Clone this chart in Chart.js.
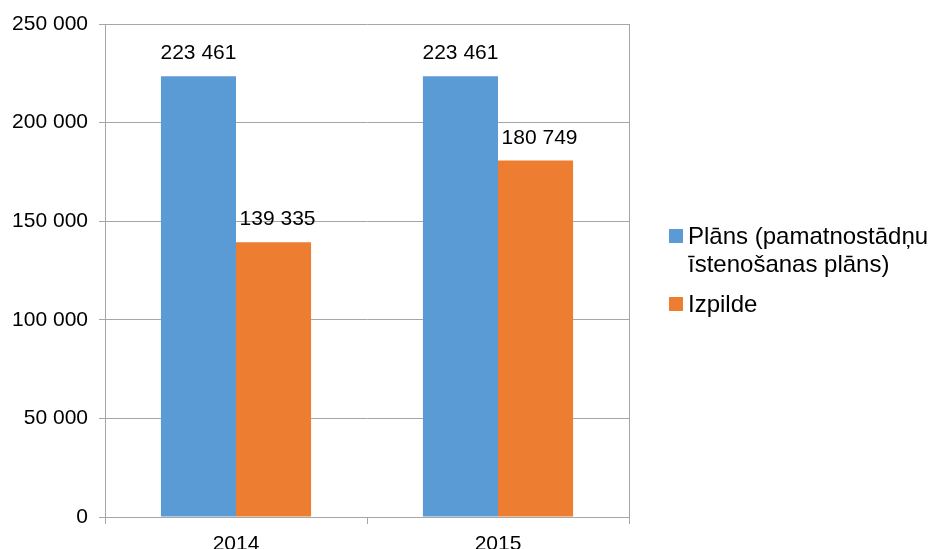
<!DOCTYPE html>
<html>
<head>
<meta charset="utf-8">
<script src="https://cdn.jsdelivr.net/npm/chart.js@4/dist/chart.umd.min.js"></script>
<style>
html,body{margin:0;padding:0;background:#fff;}
#wrap{width:930px;height:549px;position:relative;}
</style>
</head>
<body>
<div id="wrap"><canvas id="c" width="930" height="549"></canvas></div>
<script>
const categories = ["2014", "2015"];
const planLabel = ["Plāns (pamatnostādņu", "īstenošanas plāns)"];
const planValues = [223461, 223461];
const execLabel = "Izpilde";
const execValues = [139335, 180749];
const yTicks = [0, 50000, 100000, 150000, 200000, 250000];

const FONT = "'Liberation Sans', Arial, sans-serif";
const fmt = v => String(v).replace(/\B(?=(\d{3})+(?!\d))/g, ' ');

const labelsPlugin = {
  id: 'barLabels',
  afterDatasetsDraw(chart) {
    const ctx = chart.ctx;
    ctx.save();
    ctx.font = '21px ' + FONT;
    ctx.fillStyle = '#000';
    ctx.textAlign = 'center';
    ctx.textBaseline = 'alphabetic';
    chart.data.datasets.forEach((ds, di) => {
      chart.getDatasetMeta(di).data.forEach((bar, i) => {
        ctx.fillText(fmt(ds.data[i]), bar.x + (di === 1 ? 4 : 0), bar.y - 17);
      });
    });
    ctx.restore();
  }
};

const framePlugin = {
  id: 'frame',
  beforeDatasetsDraw(chart) {
    const a = chart.chartArea, ctx = chart.ctx;
    ctx.save();
    ctx.strokeStyle = '#a6a6a6';
    ctx.lineWidth = 1;
    ctx.beginPath();
    ctx.moveTo(Math.round(a.right) + 0.5, a.top);
    ctx.lineTo(Math.round(a.right) + 0.5, a.bottom);
    ctx.stroke();
    ctx.restore();
  }
};

const legendPlugin = {
  id: 'customLegend',
  afterDraw(chart) {
    const ctx = chart.ctx;
    ctx.save();
    ctx.font = '24px ' + FONT;
    ctx.textAlign = 'left';
    ctx.textBaseline = 'alphabetic';
    const ds = chart.data.datasets;
    ctx.fillStyle = ds[0].backgroundColor;
    ctx.fillRect(669, 229, 14, 14);
    ctx.fillStyle = '#000';
    const l0 = ds[0].label;
    ctx.fillText(l0[0], 688, 244);
    ctx.fillText(l0[1], 688, 272);
    ctx.fillStyle = ds[1].backgroundColor;
    ctx.fillRect(669, 297, 14, 14);
    ctx.fillStyle = '#000';
    ctx.fillText(ds[1].label, 688, 312);
    ctx.restore();
  }
};

new Chart(document.getElementById('c'), {
  type: 'bar',
  data: {
    labels: categories,
    datasets: [
      { label: planLabel, data: planValues, backgroundColor: '#5b9bd5', borderWidth: 0 },
      { label: execLabel, data: execValues, backgroundColor: '#ed7d31', borderWidth: 0 }
    ]
  },
  options: {
    responsive: false,
    animation: false,
    devicePixelRatio: 1,
    layout: { padding: { top: 24, right: 301, left: 0, bottom: 0 } },
    datasets: { bar: { categoryPercentage: 0.573, barPercentage: 1.0 } },
    plugins: { legend: { display: false }, tooltip: { enabled: false } },
    scales: {
      x: {
        offset: true,
        grid: { offset: true, drawOnChartArea: false, color: '#a6a6a6', tickLength: 7 },
        border: { color: '#a6a6a6' },
        ticks: { font: { family: FONT, size: 21 }, color: '#000', padding: 8 },
        afterFit(s) { s.height = 32; }
      },
      y: {
        min: 0, max: 250000,
        afterBuildTicks(s) { s.ticks = yTicks.map(v => ({ value: v })); },
        grid: { color: '#a6a6a6', tickLength: 6 },
        border: { color: '#a6a6a6' },
        ticks: { font: { family: FONT, size: 21 }, color: '#000', padding: 11,
                 callback: v => fmt(v) },
        afterFit(s) { s.width = 105; }
      }
    }
  },
  plugins: [framePlugin, labelsPlugin, legendPlugin]
});
</script>
</body>
</html>
